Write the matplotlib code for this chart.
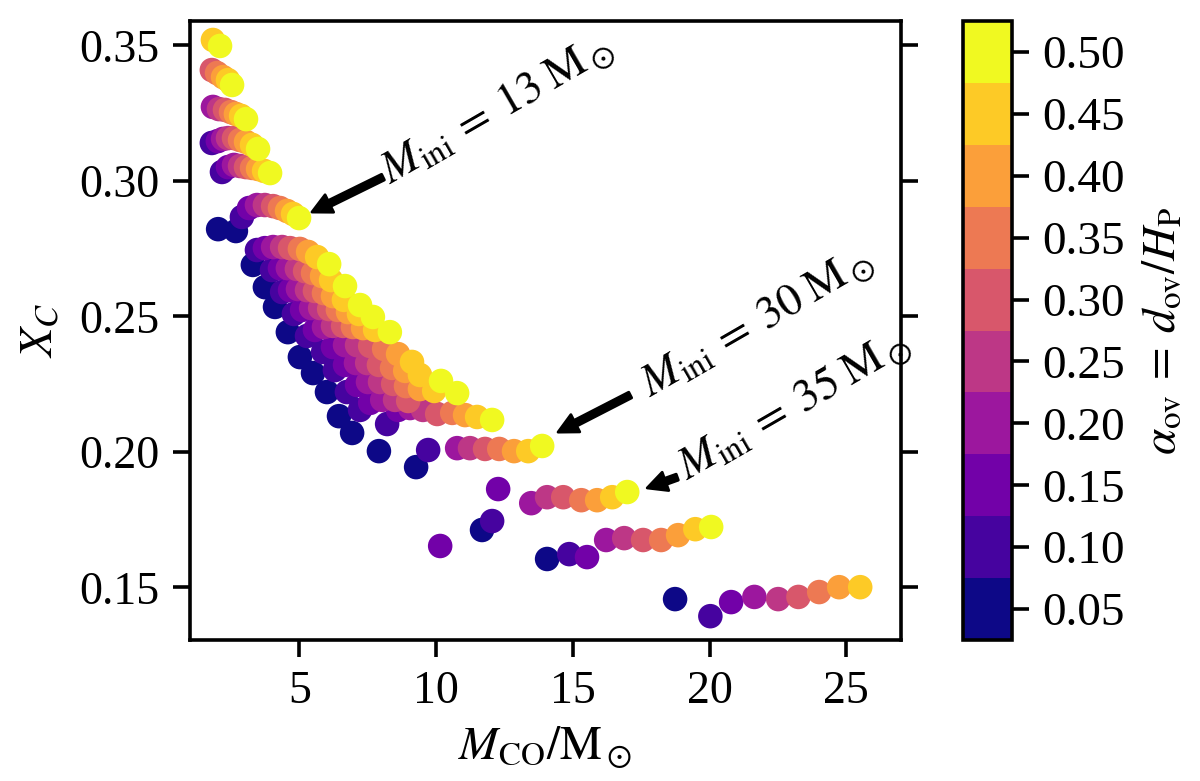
import numpy as np
import matplotlib
matplotlib.use('Agg')
import matplotlib.pyplot as plt
from matplotlib.colors import Normalize

plt.rcParams['font.family'] = ['Liberation Serif', 'DejaVu Serif']
plt.rcParams['mathtext.fontset'] = 'stix'

# overshoot levels
alpha_levels = [0.05, 0.10, 0.15, 0.20, 0.25, 0.30, 0.35, 0.40, 0.45, 0.50]

# tracks (one per initial mass): M_CO, X_C, alpha_ov
mco_A = [1.84, 2.10]
xc_A = [0.3520, 0.3498]
aov_A = [0.45, 0.50]

mco_B = [1.80, 1.99, 2.21, 2.39, 2.54]
xc_B = [0.3409, 0.3398, 0.3383, 0.3372, 0.3354]
aov_B = [0.30, 0.35, 0.40, 0.45, 0.50]

mco_C = [1.84, 2.06, 2.28, 2.50, 2.68, 2.87, 3.05]
xc_C = [0.3273, 0.3265, 0.3262, 0.3254, 0.3247, 0.3240, 0.3228]
aov_C = [0.20, 0.25, 0.30, 0.35, 0.40, 0.45, 0.50]

mco_D = [1.80, 2.02, 2.21, 2.39, 2.61, 2.83, 3.05, 3.27, 3.49]
xc_D = [0.3140, 0.3147, 0.3155, 0.3158, 0.3158, 0.3151, 0.3144, 0.3133, 0.3118]
aov_D = [0.10, 0.15, 0.20, 0.25, 0.30, 0.35, 0.40, 0.45, 0.50]

mco_E = [2.03, 2.17, 2.39, 2.61, 2.83, 3.05, 3.27, 3.49, 3.71, 3.93]
xc_E = [0.2822, 0.3033, 0.3051, 0.3059, 0.3055, 0.3051, 0.3048, 0.3044, 0.3037, 0.3029]
aov_E = [0.05, 0.10, 0.15, 0.20, 0.25, 0.30, 0.35, 0.40, 0.45, 0.50]

mco_F = [2.68, 2.90, 3.16, 3.45, 3.74, 4.04, 4.29, 4.55, 4.77, 4.99]
xc_F = [0.2815, 0.2867, 0.2900, 0.2911, 0.2911, 0.2907, 0.2900, 0.2889, 0.2878, 0.2863]
aov_F = [0.05, 0.10, 0.15, 0.20, 0.25, 0.30, 0.35, 0.40, 0.45, 0.50]

mco_G = [3.30, 3.45, 3.74, 4.04, 4.37, 4.66, 5.02, 5.32, 5.65, 6.09]
xc_G = [0.2690, 0.2745, 0.2752, 0.2756, 0.2756, 0.2752, 0.2749, 0.2738, 0.2719, 0.2693]
aov_G = [0.05, 0.10, 0.15, 0.20, 0.25, 0.30, 0.35, 0.40, 0.45, 0.50]

mco_H = [3.74, 4.00, 4.29, 4.58, 4.91, 5.21, 5.50, 5.83, 6.16, 6.67]
xc_H = [0.2608, 0.2671, 0.2678, 0.2678, 0.2675, 0.2667, 0.2660, 0.2649, 0.2634, 0.2612]
aov_H = [0.05, 0.10, 0.15, 0.20, 0.25, 0.30, 0.35, 0.40, 0.45, 0.50]

mco_I = [4.11, 4.37, 4.66, 4.95, 5.28, 5.57, 5.90, 6.23, 6.63, 7.22]
xc_I = [0.2535, 0.2590, 0.2597, 0.2601, 0.2597, 0.2594, 0.2586, 0.2575, 0.2561, 0.2542]
aov_I = [0.05, 0.10, 0.15, 0.20, 0.25, 0.30, 0.35, 0.40, 0.45, 0.50]

mco_J = [4.58, 4.80, 5.10, 5.43, 5.76, 6.09, 6.41, 6.78, 7.18, 7.69]
xc_J = [0.2442, 0.2509, 0.2524, 0.2531, 0.2531, 0.2527, 0.2524, 0.2516, 0.2509, 0.2498]
aov_J = [0.05, 0.10, 0.15, 0.20, 0.25, 0.30, 0.35, 0.40, 0.45, 0.50]

mco_K = [5.02, 5.28, 5.57, 5.90, 6.23, 6.60, 6.96, 7.33, 7.77, 8.31]
xc_K = [0.2350, 0.2428, 0.2450, 0.2461, 0.2465, 0.2465, 0.2461, 0.2457, 0.2450, 0.2442]
aov_K = [0.05, 0.10, 0.15, 0.20, 0.25, 0.30, 0.35, 0.40, 0.45, 0.50]

mco_L = [5.50, 5.87, 6.23, 6.67, 7.11, 7.59, 8.10, 8.61, 9.12]
xc_L = [0.2291, 0.2369, 0.2387, 0.2394, 0.2394, 0.2391, 0.2380, 0.2361, 0.2332]
aov_L = [0.05, 0.10, 0.15, 0.20, 0.25, 0.30, 0.35, 0.40, 0.45]

mco_M = [6.01, 6.30, 6.67, 7.07, 7.48, 7.91, 8.39, 8.87, 9.41, 10.18]
xc_M = [0.2221, 0.2302, 0.2321, 0.2328, 0.2328, 0.2321, 0.2310, 0.2299, 0.2284, 0.2262]
aov_M = [0.05, 0.10, 0.15, 0.20, 0.25, 0.30, 0.35, 0.40, 0.45, 0.50]

mco_N = [6.45, 6.74, 7.11, 7.51, 7.95, 8.43, 8.90, 9.41, 9.93, 10.77]
xc_N = [0.2132, 0.2221, 0.2247, 0.2258, 0.2258, 0.2251, 0.2243, 0.2232, 0.2225, 0.2217]
aov_N = [0.05, 0.10, 0.15, 0.20, 0.25, 0.30, 0.35, 0.40, 0.45, 0.50]

mco_O = [6.93, 7.22, 7.59, 8.03, 8.50, 8.98]
xc_O = [0.2070, 0.2155, 0.2181, 0.2192, 0.2192, 0.2188]
aov_O = [0.05, 0.10, 0.15, 0.20, 0.25, 0.30]

mco_P = [7.91, 8.21, 8.61, 9.05, 9.52, 10.04, 10.59, 11.06, 11.50, 12.05]
xc_P = [0.2003, 0.2103, 0.2155, 0.2162, 0.2155, 0.2140, 0.2144, 0.2136, 0.2129, 0.2118]
aov_P = [0.05, 0.10, 0.15, 0.20, 0.25, 0.30, 0.35, 0.40, 0.45, 0.50]

mco_Q = [9.27, 9.71, 10.15, 10.77, 11.24, 11.79, 12.31, 12.85, 13.37, 13.88]
xc_Q = [0.1944, 0.2007, 0.1653, 0.2014, 0.2014, 0.2011, 0.2011, 0.2003, 0.2003, 0.2022]
aov_Q = [0.05, 0.10, 0.15, 0.20, 0.25, 0.30, 0.35, 0.40, 0.45, 0.50]

mco_R = [11.68, 12.05, 12.27, 13.48, 14.06, 14.65, 15.31, 15.89, 16.44, 16.99]
xc_R = [0.1712, 0.1745, 0.1863, 0.1811, 0.1833, 0.1833, 0.1822, 0.1822, 0.1833, 0.1852]
aov_R = [0.05, 0.10, 0.15, 0.20, 0.25, 0.30, 0.35, 0.40, 0.45, 0.50]

mco_S = [14.06, 14.87, 15.52, 16.22, 16.88, 17.57, 18.23, 18.85, 19.48, 20.06]
xc_S = [0.1605, 0.1623, 0.1612, 0.1675, 0.1682, 0.1675, 0.1675, 0.1693, 0.1715, 0.1723]
aov_S = [0.05, 0.10, 0.15, 0.20, 0.25, 0.30, 0.35, 0.40, 0.45, 0.50]

mco_T = [18.74, 20.03, 20.79, 21.64, 22.51, 23.25, 24.01, 24.74, 25.51]
xc_T = [0.1457, 0.1394, 0.1446, 0.1465, 0.1457, 0.1465, 0.1483, 0.1501, 0.1501]
aov_T = [0.05, 0.10, 0.15, 0.20, 0.25, 0.30, 0.35, 0.40, 0.45]

x_ticks = [5, 10, 15, 20, 25]
y_ticks = [0.15, 0.20, 0.25, 0.30, 0.35]

tracks = [
    (mco_A, xc_A, aov_A), (mco_B, xc_B, aov_B), (mco_C, xc_C, aov_C),
    (mco_D, xc_D, aov_D), (mco_E, xc_E, aov_E), (mco_F, xc_F, aov_F),
    (mco_G, xc_G, aov_G), (mco_H, xc_H, aov_H), (mco_I, xc_I, aov_I),
    (mco_J, xc_J, aov_J), (mco_K, xc_K, aov_K), (mco_L, xc_L, aov_L),
    (mco_M, xc_M, aov_M), (mco_N, xc_N, aov_N), (mco_O, xc_O, aov_O),
    (mco_P, xc_P, aov_P), (mco_Q, xc_Q, aov_Q), (mco_R, xc_R, aov_R),
    (mco_S, xc_S, aov_S), (mco_T, xc_T, aov_T),
]

mco = np.concatenate([np.array(t[0]) for t in tracks])
xc = np.concatenate([np.array(t[1]) for t in tracks])
aov = np.concatenate([np.array(t[2]) for t in tracks])
order = np.argsort(aov, kind='stable')

fig = plt.figure(figsize=(6.0, 3.905), dpi=200)
ax = fig.add_axes([0.1583, 0.1805, 0.5925, 0.7926])
cax = fig.add_axes([0.8025, 0.1805, 0.0408, 0.7926])

cmap = plt.get_cmap('plasma', 10)
norm = Normalize(vmin=0.025, vmax=0.525)
sc = ax.scatter(mco[order], xc[order], c=aov[order], cmap=cmap, norm=norm,
                s=78, linewidths=0, zorder=2)

ax.set_xlim(1.0, 27.0)
ax.set_ylim(0.1306, 0.359)
ax.set_xticks(x_ticks)
ax.set_yticks(y_ticks)
ax.set_yticklabels([f'{v:.2f}' for v in y_ticks])
ax.tick_params(axis='both', which='major', direction='out', length=6, width=1.3,
               labelsize=16.5, right=True, top=False, pad=5)
for sp in ax.spines.values():
    sp.set_linewidth(1.3)

ax.set_xlabel(r'$M_{\rm CO}/{\rm M}_\odot$', fontsize=17, labelpad=4)
ax.set_ylabel(r'$X_C$', fontsize=17, labelpad=6)

fs_ann = 16.5
lab13 = r'$M_{\rm ini}\:=\:13\;{\rm M}_\odot$'
lab30 = r'$M_{\rm ini}\:=\:30\;{\rm M}_\odot$'
lab35 = r'$M_{\rm ini}\:=\:35\;{\rm M}_\odot$'
ax.text(8.32, 0.2989, lab13, rotation=30,
        rotation_mode='anchor', ha='left', va='baseline', fontsize=fs_ann)
ax.text(17.83, 0.2203, lab30, rotation=30,
        rotation_mode='anchor', ha='left', va='baseline', fontsize=fs_ann)
ax.text(19.18, 0.1896, lab35, rotation=30,
        rotation_mode='anchor', ha='left', va='baseline', fontsize=fs_ann)

arrow_kw = dict(facecolor='black', edgecolor='black', width=2.3,
                headwidth=7.0, headlength=7.0, shrink=0.0)
ax.annotate('', xy=(5.46, 0.2885), xytext=(8.06, 0.3014), arrowprops=arrow_kw)
ax.annotate('', xy=(14.46, 0.2073), xytext=(17.10, 0.2210), arrowprops=arrow_kw)
ax.annotate('', xy=(17.72, 0.1867), xytext=(18.82, 0.1907), arrowprops=arrow_kw)

cb = fig.colorbar(sc, cax=cax, ticks=alpha_levels)
cb.ax.set_yticklabels([f'{v:.2f}' for v in alpha_levels])
cb.ax.tick_params(direction='out', length=6, width=1.3, labelsize=17, pad=5)
cb.outline.set_linewidth(1.3)
cb.set_label(r'$\alpha_{\rm ov}\:=\:d_{\rm ov}/H_{\rm P}$', fontsize=17, labelpad=6)

fig.savefig('out.png', dpi=200)
